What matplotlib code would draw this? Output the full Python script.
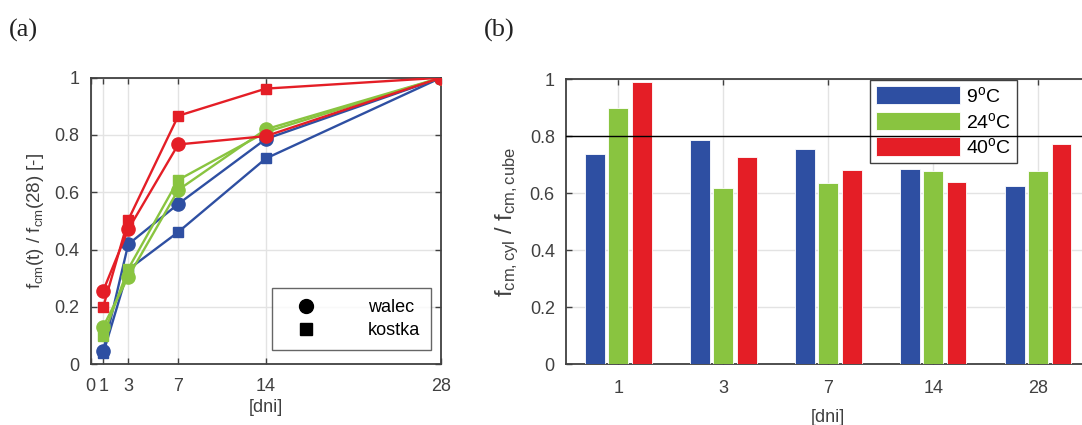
import matplotlib
matplotlib.use('Agg')
import matplotlib.pyplot as plt
from matplotlib.lines import Line2D
import numpy as np

plt.rcParams['font.family'] = ['Liberation Sans', 'DejaVu Sans']
plt.rcParams['mathtext.fontset'] = 'custom'
plt.rcParams['mathtext.rm'] = 'Liberation Sans'
plt.rcParams['mathtext.it'] = 'Liberation Sans'

# --- dane (a): f_cm(t)/f_cm(28)
days = [1, 3, 7, 14, 28]
walec_9 = [0.045, 0.418, 0.559, 0.786, 1.0]
walec_24 = [0.130, 0.304, 0.608, 0.820, 1.0]
walec_40 = [0.256, 0.470, 0.767, 0.796, 1.0]
kostka_9 = [0.037, 0.330, 0.461, 0.718, 1.0]
kostka_24 = [0.098, 0.332, 0.643, 0.810, 1.0]
kostka_40 = [0.199, 0.503, 0.867, 0.962, 1.0]

# --- dane (b): f_cm,cyl / f_cm,cube
categories = ['1', '3', '7', '14', '28']
ratio_9 = [0.737, 0.786, 0.753, 0.683, 0.624]
ratio_24 = [0.898, 0.619, 0.637, 0.678, 0.678]
ratio_40 = [0.991, 0.726, 0.680, 0.638, 0.771]
temp_labels = ['9$^{\\rm o}$C', '24$^{\\rm o}$C', '40$^{\\rm o}$C']

blue = '#2E4FA2'
green = '#89C440'
red = '#E41E26'
dark = '#404040'
fs = 13

fig = plt.figure(figsize=(10.82, 4.25), dpi=100)

def style(ax):
    for s in ax.spines.values():
        s.set_color(dark)
        s.set_linewidth(1.3)
    ax.tick_params(direction='in', top=True, right=True, colors=dark,
                   labelsize=fs, length=4, width=1.0, pad=8)
    ax.grid(True, color='#E3E3E3', linewidth=1.0)
    ax.set_axisbelow(True)

# ---------------- (a)
ax1 = fig.add_axes([0.0838, 0.1435, 0.3238, 0.6736])
style(ax1)
for w, k, c in [(walec_9, kostka_9, blue), (walec_24, kostka_24, green), (walec_40, kostka_40, red)]:
    ax1.plot(days, k, color=c, lw=1.7, marker='s', markersize=7.5, zorder=3)
    ax1.plot(days, w, color=c, lw=1.7, marker='o', markersize=9.5, zorder=3)
ax1.set_xlim(0, 28)
ax1.set_ylim(0, 1)
ax1.set_xticks([0, 1, 3, 7, 14, 28])
ax1.set_xticklabels(['0', '1', '3', '7', '14', '28'])
ax1.set_yticks([0, 0.2, 0.4, 0.6, 0.8, 1])
ax1.set_yticklabels(['0', '0.2', '0.4', '0.6', '0.8', '1'])
ax1.tick_params(axis='x', pad=10)
ax1.set_xlabel('[dni]', fontsize=fs, color=dark, labelpad=3)
ax1.set_ylabel('f$_{\\rm cm}$(t) / f$_{\\rm cm}$(28) [-]', fontsize=fs + 0.5, color=dark, labelpad=6)
h = [Line2D([], [], color='black', marker='o', ls='none', markersize=10),
     Line2D([], [], color='black', marker='s', ls='none', markersize=8)]
leg1 = ax1.legend(h, ['walec', 'kostka'], loc='lower right', bbox_to_anchor=(0.9715, 0.049),
                  borderaxespad=0, fontsize=fs, fancybox=False, edgecolor=dark,
                  handletextpad=2.2, borderpad=0.6, labelspacing=0.35, handlelength=2.5)
leg1.get_frame().set_linewidth(1.0)

# ---------------- (b)
ax2 = fig.add_axes([0.523, 0.143, 0.485, 0.671])
style(ax2)
x = np.arange(1, len(categories) + 1)
bw = 0.19
off = 0.222
for vals, c, lab, dx in [(ratio_9, blue, temp_labels[0], -off), (ratio_24, green, temp_labels[1], 0),
                         (ratio_40, red, temp_labels[2], off)]:
    ax2.bar(x + dx, vals, width=bw, color=c, edgecolor='white', linewidth=0.6, label=lab, zorder=3)
ax2.axhline(0.8, color='black', lw=1.0, zorder=7)
ax2.set_xlim(0.5, 5.5)
ax2.set_ylim(0, 1)
ax2.set_xticks(x)
ax2.set_xticklabels(categories)
ax2.set_yticks([0, 0.2, 0.4, 0.6, 0.8, 1])
ax2.set_yticklabels(['0', '0.2', '0.4', '0.6', '0.8', '1'])
ax2.tick_params(axis='x', pad=11)
ax2.set_xlabel('[dni]', fontsize=fs, color=dark, labelpad=9)
ax2.set_ylabel('f$_{\\rm cm,cyl}$ / f$_{\\rm cm,cube}$', fontsize=17, color=dark, labelpad=6)
leg2 = ax2.legend(loc='upper left', bbox_to_anchor=(0.58, 0.997), borderaxespad=0,
                  fontsize=14, fancybox=False, edgecolor=dark, framealpha=1,
                  handlelength=4.3, handleheight=1.1, handletextpad=0.3,
                  borderpad=0.3, labelspacing=0.3)
leg2.get_frame().set_linewidth(1.0)
leg2.set_zorder(6)

fig.text(0.008, 0.915, '(a)', fontsize=19, family='Liberation Serif', color='#222222')
fig.text(0.447, 0.915, '(b)', fontsize=19, family='Liberation Serif', color='#222222')

fig.savefig('out.png', dpi=100)
